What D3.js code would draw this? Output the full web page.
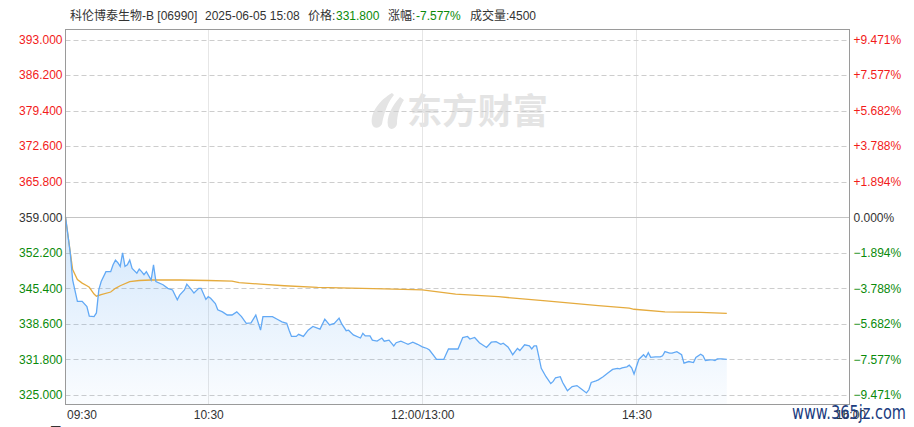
<!DOCTYPE html>
<html><head><meta charset="utf-8">
<script src="https://cdn.jsdelivr.net/npm/d3@7"></script>
<style>
html,body{margin:0;padding:0;background:#fff;}
svg{display:block;font-family:Arial,"Liberation Sans","Noto Sans CJK SC",sans-serif;}
</style></head>
<body>
<svg id="chart" width="914" height="427"></svg>
<script>
// ---- data ----
const prevClose = 359.0;
const yTicks = [393.0, 386.2, 379.4, 372.6, 365.8, 359.0, 352.2, 345.4, 338.6, 331.8, 325.0];
const xTickTimes = ["09:30", "10:30", "12:00", "14:30", "16:00"];
const xTickLabels = ["09:30", "10:30", "12:00/13:00", "14:30", "16:00"];
const priceTimes = ["09:30","09:32","09:33","09:35","09:37","09:39","09:40","09:42","09:43","09:44","09:45","09:47","09:49","09:50","09:51","09:52","09:53","09:54","09:55","09:56","09:57","09:58","10:00","10:01","10:02","10:03","10:04","10:06","10:07","10:08","10:11","10:13","10:15","10:17","10:18","10:20","10:21","10:23","10:24","10:26","10:27","10:29","10:30","10:31","10:33","10:34","10:36","10:38","10:40","10:42","10:44","10:46","10:48","10:50","10:52","10:53","10:57","10:59","11:01","11:03","11:04","11:05","11:07","11:08","11:10","11:12","11:14","11:17","11:19","11:21","11:23","11:25","11:26","11:28","11:29","11:31","11:34","11:35","11:36","11:38","11:39","11:41","11:43","11:44","11:46","11:48","11:49","11:51","11:53","11:54","11:56","11:58","12:00","13:02","13:03","13:06","13:09","13:11","13:15","13:17","13:19","13:20","13:22","13:24","13:27","13:29","13:31","13:33","13:34","13:36","13:37","13:38","13:40","13:41","13:43","13:45","13:46","13:47","13:48","13:49","13:50","13:52","13:54","13:55","13:56","13:58","13:59","14:00","14:01","14:03","14:05","14:07","14:09","14:10","14:11","14:13","14:14","14:16","14:18","14:20","14:22","14:23","14:24","14:26","14:27","14:28","14:29","14:30","14:31","14:33","14:34","14:35","14:36","14:38","14:40","14:41","14:42","14:44","14:45","14:47","14:49","14:50","14:52","14:54","14:55","14:57","14:58","14:59","15:01","15:02","15:03","15:04","15:06","15:08"];
const priceValues = [359.1,352.2,347.0,342.9,342.9,341.9,340.1,340.0,340.7,345.1,346.7,348.6,348.6,349.9,350.8,350.3,349.6,352.2,349.6,349.9,350.8,349.2,348.3,349.1,348.6,348.0,348.6,347.0,349.9,346.7,346.1,345.4,345.1,343.2,344.1,345.1,346.2,345.1,344.5,345.4,345.4,343.3,343.8,343.5,342.5,341.3,340.9,340.3,340.3,340.9,340.0,338.7,338.8,340.3,337.4,340.0,340.0,339.5,339.0,338.7,337.4,336.2,336.2,336.6,336.2,337.4,338.1,337.6,339.5,338.4,338.7,339.7,338.7,337.3,337.4,336.5,335.9,336.8,336.3,336.3,335.5,335.3,335.9,335.3,335.5,334.4,335.0,335.3,334.9,334.7,335.1,334.7,334.2,333.9,333.6,331.8,331.8,333.8,333.8,336.0,336.2,335.7,336.0,335.0,334.1,335.1,335.2,334.7,334.9,334.2,333.5,332.7,333.9,333.5,334.6,334.4,333.8,334.4,334.4,332.3,330.1,328.5,327.2,327.6,328.3,328.5,327.4,326.6,325.8,326.6,326.8,326.1,325.4,326.0,327.4,327.7,327.9,328.5,329.2,329.9,330.1,330.0,330.2,330.4,330.7,330.2,329.0,330.4,331.8,332.7,332.2,333.1,332.2,332.3,332.3,332.5,333.3,333.0,333.0,333.3,332.7,331.1,331.4,331.2,332.2,332.8,332.5,331.6,331.7,331.7,331.6,331.9,331.9,331.8];
const avgTimes = ["09:30","09:33","09:35","09:37","09:39","09:40","09:42","09:43","09:45","09:49","09:51","09:53","09:57","10:01","10:06","10:18","10:30","10:40","10:43","10:52","11:02","11:16","11:44","12:00","13:14","13:32","13:52","14:14","14:27","14:29","14:42","14:57","15:08"];
const avgValues = [359.0,349.0,347.1,346.4,345.9,345.6,344.3,343.9,344.2,344.7,345.4,345.9,346.7,346.9,347.0,347.0,346.9,346.8,346.5,346.2,345.9,345.6,345.3,345.1,344.3,343.8,343.0,342.1,341.6,341.4,340.9,340.8,340.6];
const header = {name: "科伦博泰生物-B [06990]", time: "2025-06-05 15:08", price: "331.800", change: "-7.577%", volume: "4500"};

// ---- helpers ----
function toIdx(t){
  const [h,m] = t.split(":").map(Number);
  const mins = h*60+m;
  return mins <= 720 ? mins - 570 : mins - 780 + 150;
}
const RED = "#f21b1b", GREEN = "#0a8a0a", DARK = "#333";
const svg = d3.select("#chart");
const L = 65.5, R = 849.5, T = 29.5, B = 404.5;

const x = d3.scaleLinear().domain([0, 330]).range([65.5, 850.5]);
const y = d3.scaleLinear().domain([325, 393]).range([395, 39.5]);

// watermark
const wm = svg.append("g").attr("fill", "#e4e4e4");
wm.append("path").attr("d", "M392,93 C380,100 370,112 372,124 C374,130 380,128 382,124 C384,112 388,102 394,95 Z");
wm.append("path").attr("d", "M400,97 C392,106 386,117 388,126 C390,131 396,129 397,124 C397,114 400,106 404,100 Z");
wm.append("text").attr("x", 407).attr("y", 124).attr("font-size", 35).attr("font-weight", "bold")
  .attr("font-family", "'Noto Sans CJK SC',sans-serif").attr("textLength", 141).text("东方财富");

// vertical grid
svg.append("g").selectAll("line").data(xTickTimes.slice(1, 4)).join("line")
  .attr("x1", d => Math.round(x(toIdx(d))) + 0.5).attr("x2", d => Math.round(x(toIdx(d))) + 0.5)
  .attr("y1", T).attr("y2", B).attr("stroke", "#e6e6e6").attr("stroke-width", 1);

// horizontal grid
svg.append("g").selectAll("line").data(yTicks).join("line")
  .attr("x1", L).attr("x2", R)
  .attr("y1", d => Math.round(y(d)) + 0.5).attr("y2", d => Math.round(y(d)) + 0.5)
  .attr("stroke", d => d === prevClose ? "#c4c4c4" : "#cdcdcd")
  .attr("stroke-dasharray", d => d === prevClose ? null : "5,3");

// area gradient
const defs = svg.append("defs");
const grad = defs.append("linearGradient").attr("id", "ag").attr("x1", 0).attr("y1", 0).attr("x2", 0).attr("y2", 1);
grad.append("stop").attr("offset", "0%").attr("stop-color", "#5fa8f3").attr("stop-opacity", 0.28);
grad.append("stop").attr("offset", "100%").attr("stop-color", "#5fa8f3").attr("stop-opacity", 0.03);

const priceData = priceTimes.map((t, i) => ({i: toIdx(t), v: priceValues[i]}));
const avgData = avgTimes.map((t, i) => ({i: toIdx(t), v: avgValues[i]}));

svg.append("path").datum(priceData)
  .attr("d", d3.area().x(d => x(d.i)).y0(B).y1(d => y(d.v)))
  .attr("fill", "url(#ag)");
svg.append("path").datum(avgData)
  .attr("d", d3.line().x(d => x(d.i)).y(d => y(d.v)))
  .attr("fill", "none").attr("stroke", "#e5ab3e").attr("stroke-width", 1.3);
svg.append("path").datum(priceData)
  .attr("d", d3.line().x(d => x(d.i)).y(d => y(d.v)))
  .attr("fill", "none").attr("stroke", "#62a9f5").attr("stroke-width", 1.3);

// frame
svg.append("rect").attr("x", L).attr("y", T).attr("width", R - L).attr("height", B - T)
  .attr("fill", "none").attr("stroke", "#9a9a9a").attr("stroke-width", 1);

// axes
const colorOf = v => v > prevClose ? RED : (v < prevClose ? GREEN : DARK);
const leftAxis = d3.axisLeft(y).tickValues(yTicks).tickSize(0).tickPadding(3).tickFormat(d3.format(".3f"));
const gl = svg.append("g").attr("transform", `translate(${L},0)`).call(leftAxis);
gl.select(".domain").remove();
gl.selectAll("text").attr("font-size", 12).attr("font-family", "Arial,'Liberation Sans',sans-serif")
  .attr("fill", d => colorOf(d));

const pct = d => { const p = (d - prevClose) / prevClose * 100; return (p > 0.0001 ? "+" : "") + d3.format(".3f")(p) + "%"; };
const rightAxis = d3.axisRight(y).tickValues(yTicks).tickSize(0).tickPadding(4).tickFormat(pct);
const gr = svg.append("g").attr("transform", `translate(${R},0)`).call(rightAxis);
gr.select(".domain").remove();
gr.selectAll("text").attr("font-size", 12).attr("font-family", "Arial,'Liberation Sans',sans-serif")
  .attr("fill", d => colorOf(d));

const bottomAxis = d3.axisBottom(x).tickValues(xTickTimes.map(toIdx)).tickSize(0).tickPadding(6)
  .tickFormat((d, i) => xTickLabels[i]);
const gb = svg.append("g").attr("transform", `translate(0,${B})`).call(bottomAxis);
gb.select(".domain").remove();
gb.selectAll("text").attr("font-size", 12).attr("font-family", "Arial,'Liberation Sans',sans-serif")
  .attr("fill", DARK)
  .attr("text-anchor", (d, i) => i === 0 ? "start" : "middle")
  .attr("dx", (d, i) => i === 0 ? 1 : 0);

// header
const hg = svg.append("g").attr("font-size", 12).attr("fill", DARK);
hg.append("text").attr("x", 70).attr("y", 20).text(header.name);
hg.append("text").attr("x", 205).attr("y", 20).text(header.time);
hg.append("text").attr("x", 308).attr("y", 20).text("价格:");
hg.append("text").attr("x", 336).attr("y", 20).attr("fill", GREEN).text(header.price);
hg.append("text").attr("x", 388).attr("y", 20).text("涨幅:");
hg.append("text").attr("x", 416).attr("y", 20).attr("fill", GREEN).text(header.change);
hg.append("text").attr("x", 470).attr("y", 20).text("成交量:" + header.volume);

// cut-off bottom-left label
svg.append("text").attr("x", 43).attr("y", 436).attr("font-size", 12).attr("fill", DARK).text("7天");

// site watermark
svg.append("text").attr("x", 792).attr("y", 419).attr("font-size", 20)
  .attr("font-family", "'DejaVu Sans',Arial,sans-serif")
  .attr("fill", "#1b3c80")
  .attr("textLength", 114).attr("lengthAdjust", "spacingAndGlyphs").text("www.365jz.com");
</script>
</body></html>
